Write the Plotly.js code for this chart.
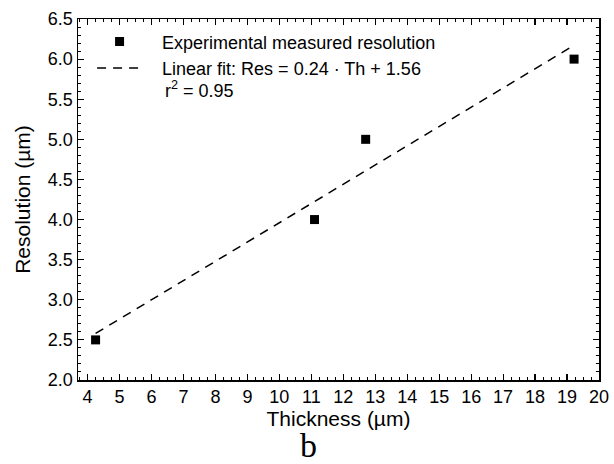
<!DOCTYPE html>
<html>
<head>
<meta charset="utf-8">
<script src="https://cdn.plot.ly/plotly-3.0.1.min.js"></script>
<style>html,body{margin:0;padding:0;background:#fff;}#chart{width:614px;height:464px;}</style>
</head>
<body>
<div id="chart"></div>
<script>
// Measured data
const thickness = [4.25, 11.1, 12.7, 19.22];
const resolution = [2.5, 4.0, 5.0, 6.0];
// Linear fit line endpoints (Res = 0.24*Th + 1.56)
const fitThickness = [4.25, 19.25];
const fitResolution = [2.58, 6.18];
const xTicks = [4,5,6,7,8,9,10,11,12,13,14,15,16,17,18,19,20];
const yTicks = [2.0,2.5,3.0,3.5,4.0,4.5,5.0,5.5,6.0,6.5];

const font = 'Liberation Sans, Arial, sans-serif';
const pad = '\u00a0\u00a0\u00a0';

const traces = [
  {
    x: thickness, y: resolution, mode: 'markers', type: 'scatter',
    name: pad + 'Experimental measured resolution',
    marker: {symbol: 'square', size: 9, color: '#000'},
    cliponaxis: false
  },
  {
    x: fitThickness, y: fitResolution, mode: 'lines', type: 'scatter',
    name: pad + 'Linear fit: Res = 0.24 · Th + 1.56',
    line: {color: '#000', width: 1.5, dash: '9px,7px'}
  }
];

const axisCommon = {
  showgrid: false, zeroline: false, showline: true, linecolor: '#000', linewidth: 1.5,
  mirror: 'ticks', ticks: 'inside', ticklen: 6, tickwidth: 1.2, tickcolor: '#000',
  tickfont: {family: font, size: 18, color: '#000'}
};

const layout = {
  width: 614, height: 464,
  margin: {l: 78, r: 15, t: 19, b: 84},
  paper_bgcolor: '#fff', plot_bgcolor: '#fff',
  font: {family: font, color: '#000'},
  showlegend: true,
  legend: {
    x: 0.027, y: 0.988, xanchor: 'left', yanchor: 'top',
    bgcolor: 'rgba(0,0,0,0)', borderwidth: 0,
    font: {family: font, size: 18, color: '#000'},
    itemwidth: 45, tracegroupgap: 0
  },
  xaxis: Object.assign({}, axisCommon, {
    range: [3.7, 20], tickvals: xTicks, ticktext: xTicks.map(String),
    minor: {dtick: 0.25, tick0: 0, ticks: 'inside', ticklen: 3, tickwidth: 1, tickcolor: '#000'},
    title: {text: 'Thickness (µm)', font: {family: font, size: 21, color: '#000'}, standoff: 4}
  }),
  yaxis: Object.assign({}, axisCommon, {
    range: [2, 6.5], tickvals: yTicks, ticktext: yTicks.map(v => v.toFixed(1)),
    minor: {dtick: 0.1, tick0: 0, ticks: 'inside', ticklen: 3, tickwidth: 1, tickcolor: '#000'},
    title: {text: 'Resolution (µm)', font: {family: font, size: 21, color: '#000'}, standoff: 11}
  }),
  annotations: [
    {xref: 'paper', yref: 'paper', x: 0.163, y: 0.806, xanchor: 'left', yanchor: 'middle',
     text: 'r<sup>2</sup> = 0.95', showarrow: false, font: {family: font, size: 18, color: '#000'}},
    {xref: 'paper', yref: 'paper', x: 0.443, y: -0.182, xanchor: 'center', yanchor: 'middle',
     text: 'b', showarrow: false, font: {family: 'Liberation Serif, DejaVu Serif, serif', size: 34, color: '#000'}}
  ]
};

Plotly.newPlot('chart', traces, layout, {displayModeBar: false, staticPlot: true});
</script>
</body>
</html>
